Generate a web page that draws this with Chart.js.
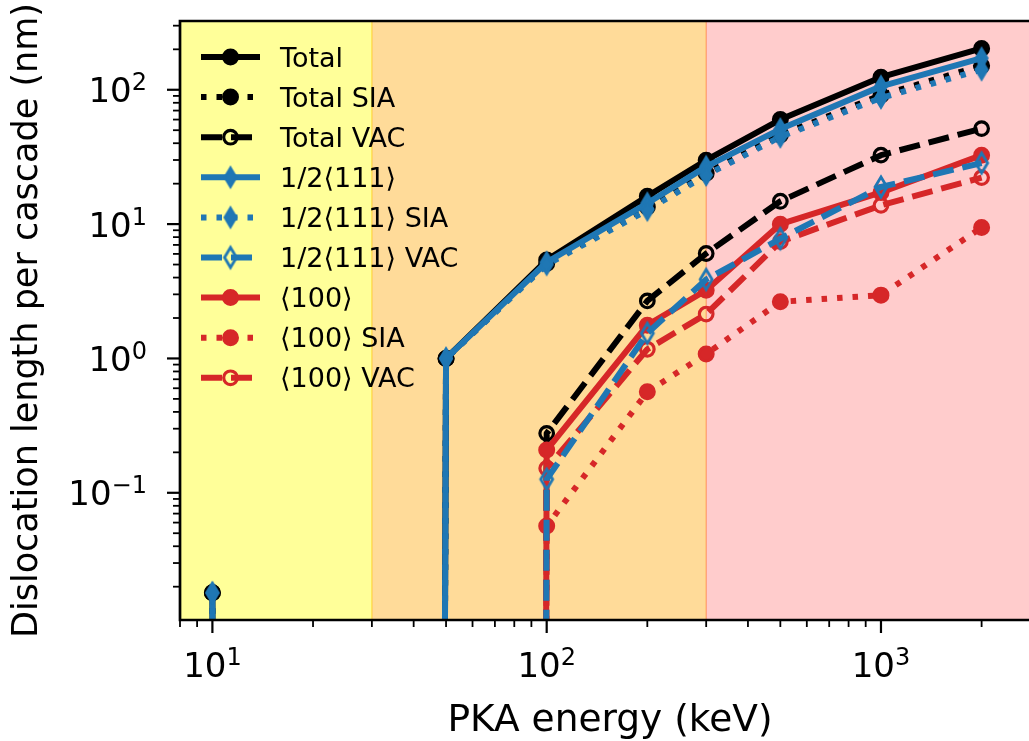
<!DOCTYPE html>
<html>
<head>
<meta charset="utf-8">
<title>Dislocation length per cascade</title>
<script src="https://cdn.jsdelivr.net/npm/chart.js@4.4.1/dist/chart.umd.min.js"></script>
<style>
  html, body { margin: 0; padding: 0; background: #fff; overflow: hidden; }
  #myChart { display: block; }
</style>
</head>
<body>
<canvas id="myChart" width="1029" height="741"></canvas>
<script>
// PKA energies (keV); 20 keV has no dislocations at all
const energies = [10, 20, 50, 100, 200, 300, 500, 1000, 2000];

// dislocation length per cascade (nm)
const total      = [0.018, 0, 1.0, 5.4, 16.1, 29.9, 60, 124, 203];
const totalSIA   = [0.018, 0, 1.0, 5.1, 13.4, 23.9, 46, 91, 151];
const totalVAC   = [0, 0, 0, 0.277, 2.68, 6.04, 14.8, 32.6, 51.4];
const half111    = [0.018, 0, 1.0, 5.2, 14.3, 26.8, 51, 106, 172];
const half111SIA = [0.018, 0, 1.0, 5.0, 12.7, 23.2, 44.6, 87, 141];
const half111VAC = [0, 0, 0, 0.126, 1.54, 3.87, 7.8, 18.9, 28.5];
const b100       = [0, 0, 0, 0.208, 1.77, 3.22, 9.98, 17.2, 32.6];
const b100SIA    = [0, 0, 0, 0.0565, 0.564, 1.08, 2.64, 2.96, 9.43];
const b100VAC    = [0, 0, 0, 0.152, 1.17, 2.14, 7.4, 13.8, 22.2];

// decade tick labels as [base, exponent]
const xTicks = [10, 100, 1000];
const xTickLabels = [['10', '1'], ['10', '2'], ['10', '3']];
const yTicks = [0.1, 1, 10, 100];
const yTickLabels = [['10', '−1'], ['10', '0'], ['10', '1'], ['10', '2']];

// energy regimes shaded behind the curves (keV)
const regionEdges = [8, 30, 300, 3000];
const regionColors = ['rgba(255,255,0,0.4)', 'rgba(255,165,0,0.4)', 'rgba(255,0,0,0.2)'];

const FONT = '"DejaVu Sans", sans-serif';
const BLACK = '#000000', BLUE = '#1f77b4', RED = '#d62728';
const LINE_W = 6;
const SOLID = [], DOTTED = [5.5, 10], DASHED = [21, 9];
// zeros can't sit on a log axis: push them far below it so the line drops straight down
const FLOOR = 1e-300;

function thinDiamond(color, filled) {
  const c = document.createElement('canvas');
  c.width = 22; c.height = 32;
  const g = c.getContext('2d');
  const w = 12, h = 20;
  g.beginPath();
  g.moveTo(11, 16 - h / 2);
  g.lineTo(11 + w / 2, 16);
  g.lineTo(11, 16 + h / 2);
  g.lineTo(11 - w / 2, 16);
  g.closePath();
  g.strokeStyle = color;
  g.lineWidth = filled ? 2 : 2.8;
  if (filled) { g.fillStyle = color; g.fill(); }
  g.stroke();
  return c;
}
const diamondFilled = thinDiamond(BLUE, true);
const diamondOpen = thinDiamond(BLUE, false);

// layer: black curves lowest, blue ones on top
const series = [
  { label: 'Total',          values: total,      color: BLACK, dash: SOLID,  marker: 'dot',         layer: 3 },
  { label: 'Total SIA',      values: totalSIA,   color: BLACK, dash: DOTTED, marker: 'dot',         layer: 3 },
  { label: 'Total VAC',      values: totalVAC,   color: BLACK, dash: DASHED, marker: 'ring',        layer: 3 },
  { label: '1/2⟨111⟩',       values: half111,    color: BLUE,  dash: SOLID,  marker: 'diamond',     layer: 1 },
  { label: '1/2⟨111⟩ SIA',   values: half111SIA, color: BLUE,  dash: DOTTED, marker: 'diamond',     layer: 1 },
  { label: '1/2⟨111⟩ VAC',   values: half111VAC, color: BLUE,  dash: DASHED, marker: 'openDiamond', layer: 1 },
  { label: '⟨100⟩',          values: b100,       color: RED,   dash: SOLID,  marker: 'dot',         layer: 2 },
  { label: '⟨100⟩ SIA',      values: b100SIA,    color: RED,   dash: DOTTED, marker: 'dot',         layer: 2 },
  { label: '⟨100⟩ VAC',      values: b100VAC,    color: RED,   dash: DASHED, marker: 'ring',        layer: 2 }
];

function pointOpts(s) {
  const shown = r => c => (c.raw && c.raw.y > FLOOR ? r : 0);
  if (s.marker === 'dot') {
    return { pointStyle: 'circle', pointRadius: shown(7), pointBorderWidth: 3,
             pointBackgroundColor: s.color, pointBorderColor: s.color };
  }
  if (s.marker === 'ring') {
    return { pointStyle: 'circle', pointRadius: shown(6.8), pointBorderWidth: 3.2,
             pointBackgroundColor: 'rgba(0,0,0,0)', pointBorderColor: s.color };
  }
  return { pointStyle: s.marker === 'diamond' ? diamondFilled : diamondOpen,
           pointRadius: shown(8) };
}

const datasets = series.map((s, i) => Object.assign({
  label: s.label,
  data: energies.map((e, k) => ({ x: e, y: s.values[k] > 0 ? s.values[k] : FLOOR })),
  borderColor: s.color,
  borderWidth: LINE_W,
  borderDash: s.dash,
  borderCapStyle: 'butt',
  borderJoinStyle: 'round',
  tension: 0,
  fill: false,
  clip: 0,
  order: s.layer * 100 - i   // higher order is drawn first
}, pointOpts(s)));

function drawMarker(ctx, s, x, y) {
  if (s.marker === 'dot' || s.marker === 'ring') {
    ctx.beginPath();
    ctx.arc(x, y, s.marker === 'dot' ? 7 : 6.8, 0, Math.PI * 2);
    ctx.lineWidth = s.marker === 'dot' ? 3 : 3.2;
    ctx.strokeStyle = s.color;
    if (s.marker === 'dot') { ctx.fillStyle = s.color; ctx.fill(); }
    ctx.stroke();
  } else {
    const img = s.marker === 'diamond' ? diamondFilled : diamondOpen;
    ctx.drawImage(img, x - img.width / 2, y - img.height / 2);
  }
}

// "10" with a raised exponent, like matplotlib's mathtext labels
function drawPower(ctx, label, x, y, align) {
  ctx.font = '34px ' + FONT;
  const wb = ctx.measureText(label[0]).width;
  ctx.font = '24px ' + FONT;
  const we = ctx.measureText(label[1]).width;
  const left = align === 'right' ? x - wb - we : x - (wb + we) / 2;
  ctx.font = '34px ' + FONT;
  ctx.fillText(label[0], left, y);
  ctx.font = '24px ' + FONT;
  ctx.fillText(label[1], left + wb, y - 12);
}

function logTickValues(min, max) {
  const out = [];
  for (let d = Math.floor(Math.log10(min)); d <= Math.ceil(Math.log10(max)); d++) {
    for (let m = 1; m < 10; m++) {
      const v = m * Math.pow(10, d);
      if (v >= min * 0.9999 && v <= max * 1.0001) out.push({ v: v, major: m === 1 });
    }
  }
  return out;
}

const decor = {
  id: 'decor',
  beforeDraw(chart) {
    const { ctx, chartArea: a, scales: { x } } = chart;
    ctx.save();
    ctx.beginPath();
    ctx.rect(a.left, a.top, a.right - a.left, a.bottom - a.top);
    ctx.clip();
    for (let i = 0; i < regionColors.length; i++) {
      const x0 = x.getPixelForValue(regionEdges[i]);
      const x1 = x.getPixelForValue(regionEdges[i + 1]);
      ctx.fillStyle = regionColors[i];
      ctx.fillRect(x0, a.top, x1 - x0, a.bottom - a.top);
      ctx.strokeStyle = regionColors[i];
      ctx.lineWidth = 1;
      ctx.strokeRect(x0, a.top, x1 - x0, a.bottom - a.top);
    }
    ctx.restore();
  },
  afterDraw(chart) {
    const { ctx, chartArea: a, scales: { x, y } } = chart;
    ctx.save();

    // tick marks, long on decades
    ctx.strokeStyle = '#000';
    logTickValues(x.min, x.max).forEach(t => {
      const px = x.getPixelForValue(t.v);
      ctx.lineWidth = t.major ? 2.2 : 1.8;
      ctx.beginPath();
      ctx.moveTo(px, a.bottom);
      ctx.lineTo(px, a.bottom + (t.major ? 13 : 7));
      ctx.stroke();
    });
    logTickValues(y.min, y.max).forEach(t => {
      const py = y.getPixelForValue(t.v);
      ctx.lineWidth = t.major ? 2.2 : 1.8;
      ctx.beginPath();
      ctx.moveTo(a.left, py);
      ctx.lineTo(a.left - (t.major ? 13 : 7), py);
      ctx.stroke();
    });

    // tick labels
    ctx.fillStyle = '#000';
    ctx.textBaseline = 'alphabetic';
    ctx.textAlign = 'left';
    xTicks.forEach((v, i) => drawPower(ctx, xTickLabels[i], x.getPixelForValue(v), a.bottom + 57, 'center'));
    yTicks.forEach((v, i) => drawPower(ctx, yTickLabels[i], a.left - 33, y.getPixelForValue(v) + 12.5, 'right'));

    // x title, centred on the full axes (which run past the canvas edge)
    ctx.font = '37.5px ' + FONT;
    ctx.textAlign = 'center';
    ctx.fillText('PKA energy (keV)', 610, 731);
    ctx.textAlign = 'left';

    // axes frame; the right spine is cut off in the original
    ctx.lineWidth = 2.7;
    ctx.lineCap = 'square';
    ctx.beginPath();
    ctx.moveTo(a.right + 5, a.top);
    ctx.lineTo(a.left, a.top);
    ctx.lineTo(a.left, a.bottom);
    ctx.lineTo(a.right + 5, a.bottom);
    ctx.stroke();

    // legend, no frame, top left inside the axes
    const rowY = 57, rowStep = 40.1, x0 = 201, x1 = 260, textX = 280;
    ctx.font = '27px ' + FONT;
    series.forEach((s, i) => {
      const yy = rowY + i * rowStep;
      ctx.setLineDash(s.dash);
      ctx.lineCap = 'butt';
      ctx.lineWidth = LINE_W;
      ctx.strokeStyle = s.color;
      ctx.beginPath();
      ctx.moveTo(x0, yy);
      ctx.lineTo(x1, yy);
      ctx.stroke();
      ctx.setLineDash([]);
      drawMarker(ctx, s, (x0 + x1) / 2, yy);
      ctx.fillStyle = '#000';
      ctx.fillText(s.label, textX, yy + 9.5);
    });
    ctx.restore();
  }
};

const ctx = document.getElementById('myChart');

new Chart(ctx, {
  type: 'line',
  data: { datasets: datasets },
  options: {
    responsive: false,
    devicePixelRatio: 1,
    animation: false,
    events: [],
    layout: { autoPadding: false, padding: { top: 21, right: 0, bottom: 0, left: 0 } },
    plugins: { legend: { display: false }, tooltip: { enabled: false } },
    scales: {
      x: {
        type: 'logarithmic',
        min: 8,
        max: 2772,   // visible end of the axis; the figure is cropped just before 3000
        bounds: 'data',
        grid: { display: false, drawTicks: false },
        border: { display: false },
        ticks: { display: false },
        afterFit: s => { s.height = 121; s.paddingLeft = 0; s.paddingRight = 0; }
      },
      y: {
        type: 'logarithmic',
        min: 0.0113,
        max: 325,
        bounds: 'data',
        grid: { display: false, drawTicks: false },
        border: { display: false },
        ticks: { display: false },
        afterFit: s => { s.width = 180; s.paddingTop = 0; s.paddingBottom = 0; },
        title: {
          display: true, text: 'Dislocation length per cascade (nm)', color: '#000',
          font: { family: FONT, size: 35 }, padding: { top: 7, bottom: 0 }
        }
      }
    }
  },
  plugins: [decor]
});
</script>
</body>
</html>
